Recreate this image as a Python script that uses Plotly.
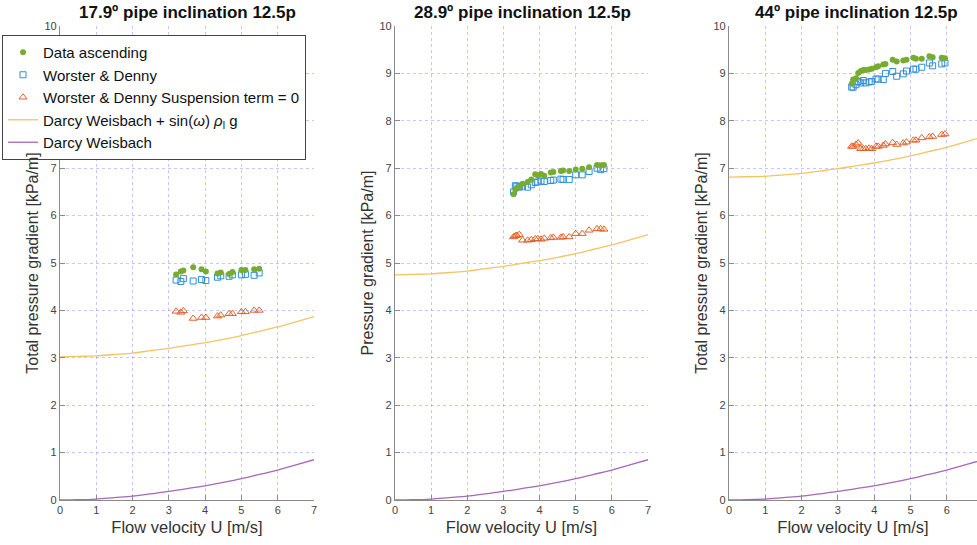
import plotly.graph_objects as go

# Measured pressure gradients and model predictions, per inclination
U1 = [3.20, 3.33, 3.40, 3.67, 3.90, 4.02, 4.34, 4.43, 4.66, 4.75, 5.00, 5.11, 5.35, 5.49]
G1 = [4.76, 4.82, 4.84, 4.91, 4.87, 4.82, 4.78, 4.80, 4.77, 4.81, 4.85, 4.85, 4.87, 4.88]
B1 = [4.64, 4.61, 4.67, 4.62, 4.65, 4.63, 4.70, 4.73, 4.72, 4.75, 4.75, 4.76, 4.74, 4.79]
R1 = [3.98, 3.96, 3.99, 3.83, 3.85, 3.85, 3.88, 3.90, 3.93, 3.93, 3.97, 3.97, 4.00, 4.00]

U2 = [3.28, 3.33, 3.37, 3.44, 3.53, 3.67, 3.77, 3.88, 3.95, 4.04, 4.13, 4.31, 4.38, 4.59,
      4.65, 4.82, 5.00, 5.18, 5.37, 5.59, 5.69, 5.78]
G2 = [6.45, 6.55, 6.58, 6.60, 6.67, 6.71, 6.76, 6.87, 6.85, 6.88, 6.84, 6.91, 6.92, 6.94,
      6.95, 6.94, 6.97, 6.99, 7.02, 7.07, 7.06, 7.07]
B2 = [6.50, 6.63, 6.62, 6.60, 6.62, 6.60, 6.65, 6.70, 6.71, 6.73, 6.72, 6.74, 6.75, 6.77,
      6.76, 6.76, 6.86, 6.86, 6.93, 7.00, 6.97, 6.99]
R2 = [5.55, 5.57, 5.58, 5.60, 5.48, 5.48, 5.49, 5.51, 5.51, 5.50, 5.52, 5.53, 5.54, 5.54,
      5.55, 5.55, 5.62, 5.62, 5.69, 5.72, 5.72, 5.71]

U3 = [3.38, 3.42, 3.50, 3.56, 3.63, 3.70, 3.77, 3.86, 3.93, 4.05, 4.11, 4.25, 4.31, 4.51,
      4.62, 4.80, 4.89, 5.08, 5.15, 5.31, 5.52, 5.61, 5.86, 5.95]
G3 = [8.78, 8.87, 8.90, 9.01, 9.05, 9.07, 9.07, 9.08, 9.10, 9.13, 9.15, 9.19, 9.20, 9.29,
      9.25, 9.27, 9.29, 9.33, 9.31, 9.31, 9.36, 9.34, 9.33, 9.32]
B3 = [8.71, 8.71, 8.76, 8.83, 8.80, 8.85, 8.80, 8.82, 8.83, 8.88, 8.88, 8.87, 9.00, 9.04,
      8.94, 8.99, 9.05, 9.09, 9.09, 9.13, 9.22, 9.16, 9.20, 9.22]
R3 = [7.46, 7.46, 7.50, 7.53, 7.41, 7.41, 7.41, 7.42, 7.41, 7.46, 7.46, 7.48, 7.51, 7.54,
      7.50, 7.53, 7.55, 7.59, 7.59, 7.64, 7.66, 7.67, 7.71, 7.72]

# Darcy Weisbach curves
UC = [0, 0.5, 1, 1.5, 2, 2.5, 3, 3.5, 4, 4.5, 5, 5.5, 6, 6.5, 7]
DW = [0, 0.005, 0.02, 0.05, 0.08, 0.13, 0.18, 0.24, 0.30, 0.37, 0.45, 0.54, 0.63, 0.74, 0.85]
DWS1 = [3.02, 3.03, 3.04, 3.07, 3.10, 3.15, 3.20, 3.26, 3.32, 3.39, 3.47, 3.56, 3.65, 3.76, 3.87]
DWS2 = [4.75, 4.76, 4.77, 4.80, 4.83, 4.88, 4.93, 4.99, 5.05, 5.12, 5.20, 5.29, 5.38, 5.49, 5.60]
DWS3 = [6.81, 6.82, 6.83, 6.86, 6.89, 6.94, 6.99, 7.05, 7.11, 7.18, 7.26, 7.35, 7.44, 7.55, 7.66]

TITLES = ["17.9º pipe inclination 12.5p", "28.9º pipe inclination 12.5p", "44º pipe inclination 12.5p"]
YLABELS = ["Total pressure gradient [kPa/m]", "Pressure gradient [kPa/m]", "Total pressure gradient [kPa/m]"]
XLABEL = "Flow velocity U [m/s]"

GREEN = "#77AC30"
BLUE = "#2F8FD8"
RED = "#E0602A"
YELLOW = "#F3C462"
PURPLE = "#A569B5"

W, H = 977, 545
FONT = "Liberation Sans, Arial, sans-serif"

panels = [(U1, G1, B1, R1, DWS1), (U2, G2, B2, R2, DWS2), (U3, G3, B3, R3, DWS3)]
# axis extents in pixels
xpix = [(60, 314, 7), (395, 648, 7), (729, 977, (977 - 729) / 36.3)]
ytop, ybot = 26, 500

fig = go.Figure()
for i, (u, g, b, r, dws) in enumerate(panels):
    ax = "" if i == 0 else str(i + 1)
    xa, ya = "x" + ax, "y" + ax
    first = i == 0
    fig.add_trace(go.Scatter(x=UC, y=dws, mode="lines", line=dict(color=YELLOW, width=1.3, shape="spline"),
                             name="Darcy Weisbach + sin(<i>ω</i>) <i>ρ</i><sub>l</sub> g",
                             showlegend=first, xaxis=xa, yaxis=ya, legendrank=4))
    fig.add_trace(go.Scatter(x=UC, y=DW, mode="lines", line=dict(color=PURPLE, width=1.3, shape="spline"),
                             name="Darcy Weisbach", showlegend=first, xaxis=xa, yaxis=ya, legendrank=5))
    fig.add_trace(go.Scatter(x=u, y=r, mode="markers",
                             marker=dict(symbol="triangle-up-open", size=7, color=RED, line=dict(width=1)),
                             name="Worster & Denny Suspension term = 0", showlegend=first,
                             xaxis=xa, yaxis=ya, legendrank=3))
    fig.add_trace(go.Scatter(x=u, y=b, mode="markers",
                             marker=dict(symbol="square-open", size=6, color=BLUE, line=dict(width=1)),
                             name="Worster & Denny", showlegend=first, xaxis=xa, yaxis=ya, legendrank=2))
    fig.add_trace(go.Scatter(x=u, y=g, mode="markers",
                             marker=dict(symbol="circle", size=6, color=GREEN),
                             name="Data ascending", showlegend=first, xaxis=xa, yaxis=ya, legendrank=1))

    x0, x1, xmax = xpix[i]
    grid = dict(showgrid=True, gridcolor="rgba(120,120,255,0.42)", griddash="dot", gridwidth=1,
                showline=True, linecolor="#8a8a8a", linewidth=1.2, ticks="inside", ticklen=5,
                tickcolor="#8a8a8a", tickfont=dict(size=11, color="#444", family=FONT),
                zeroline=False, mirror=False, automargin=False)
    fig.update_layout(**{
        "xaxis" + ax: dict(domain=[x0 / W, x1 / W], range=[0, xmax], dtick=1, anchor=ya,
                           title=dict(text=XLABEL, font=dict(size=16.5, color="#333", family=FONT), standoff=6),
                           **grid),
        "yaxis" + ax: dict(domain=[(H - ybot) / H, (H - ytop) / H], range=[0, 10], dtick=1, anchor=xa,
                           title=dict(text=YLABELS[i], font=dict(size=16, color="#333", family=FONT), standoff=1),
                           **grid),
    })
    fig.add_annotation(text="<b>" + TITLES[i] + "</b>", x=(x0 + (x0 + 36.3 * 7)) / 2 / W, y=(H - 13) / H,
                       xref="paper", yref="paper", showarrow=False,
                       font=dict(size=17, color="#111", family=FONT), xanchor="center", yanchor="middle")

fig.update_layout(
    width=W, height=H, margin=dict(l=0, r=0, t=0, b=0),
    paper_bgcolor="white", plot_bgcolor="white",
    font=dict(family=FONT),
    legend=dict(x=2 / W, y=(H - 35) / H, xanchor="left", yanchor="top",
                bgcolor="white", bordercolor="#444", borderwidth=1,
                font=dict(size=15, color="#111", family=FONT), tracegroupgap=0,
                itemwidth=30),
)

fig.write_html("out.html")
